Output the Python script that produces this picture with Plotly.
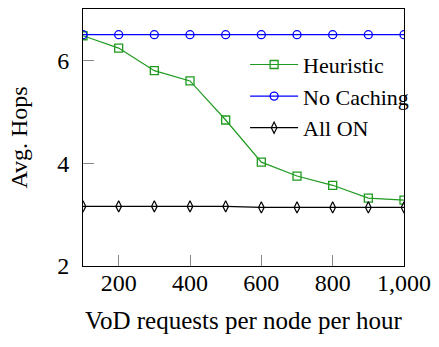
import plotly.graph_objects as go

requests = [100, 200, 300, 400, 500, 600, 700, 800, 900, 1000]
heuristic = [6.48, 6.24, 5.80, 5.60, 4.84, 4.02, 3.75, 3.57, 3.32, 3.28]
no_caching = [6.50, 6.50, 6.50, 6.50, 6.50, 6.50, 6.50, 6.50, 6.50, 6.50]
all_on = [3.16, 3.16, 3.16, 3.16, 3.16, 3.14, 3.14, 3.14, 3.14, 3.14]

x_ticks = [200, 400, 600, 800, 1000]
y_ticks = [2, 4, 6]

FONT = "Liberation Serif"
FS = 24

fig = go.Figure()
fig.add_trace(go.Scatter(x=requests, y=heuristic, name="Heuristic", mode="lines+markers",
                         line=dict(color="#1f9a1f", width=1.2),
                         marker=dict(symbol="square-open", size=8, color="#1f9a1f", line=dict(width=1.3))))
fig.add_trace(go.Scatter(x=requests, y=no_caching, name="No Caching", mode="lines+markers",
                         line=dict(color="#0000ff", width=1.2),
                         marker=dict(symbol="circle-open", size=8, color="#0000ff", line=dict(width=1.3))))
fig.add_trace(go.Scatter(x=requests, y=all_on, name="All ON", mode="lines+markers",
                         line=dict(color="black", width=1.2),
                         marker=dict(symbol="diamond-tall-open", size=8, color="black", line=dict(width=1.2))))

fig.update_layout(
    width=439, height=347,
    margin=dict(l=83, r=32, t=8, b=81),
    paper_bgcolor="white", plot_bgcolor="white",
    font=dict(family=FONT, size=FS, color="black"),
    showlegend=True,
    legend=dict(x=0.505, y=0.865, xanchor="left", yanchor="top", bgcolor="rgba(255,255,255,0)",
                font=dict(family=FONT, size=22), tracegroupgap=0, itemwidth=48),
    xaxis=dict(range=[100, 1000], tickvals=x_ticks, tickformat=",d",
               tickfont=dict(family=FONT, size=FS),
               ticks="inside", ticklen=11, tickcolor="#888888", tickwidth=1,
               showline=True, linecolor="black", linewidth=1, mirror=True,
               showgrid=False, zeroline=False,
               title=dict(text="VoD requests per node per hour", standoff=16,
                          font=dict(family=FONT, size=25)),
               ticklabelstandoff=-5),
    yaxis=dict(range=[2, 7], tickvals=y_ticks,
               tickfont=dict(family=FONT, size=FS),
               ticks="inside", ticklen=11, tickcolor="#888888", tickwidth=1,
               showline=True, linecolor="black", linewidth=1, mirror=True,
               showgrid=False, zeroline=False,
               title=dict(text="Avg. Hops", standoff=22, font=dict(family=FONT, size=FS)),
               ticklabelstandoff=8),
)

fig.write_html("out.html")
